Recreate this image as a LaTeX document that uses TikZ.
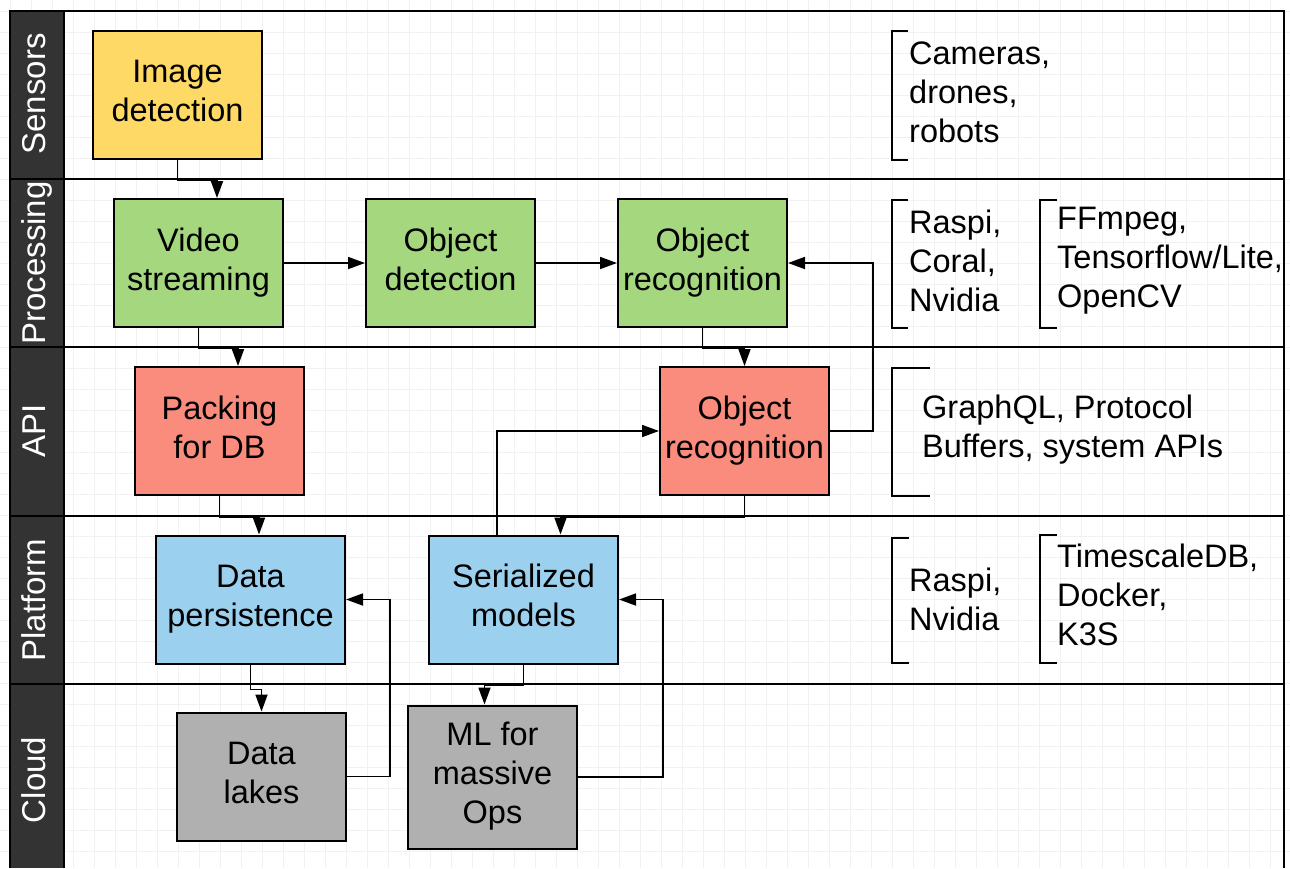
\documentclass[tikz,border=0pt]{standalone}
\usepackage{fontspec}
\setmainfont{Liberation Sans}
\usetikzlibrary{arrows.meta}
\definecolor{cyellow}{HTML}{FFD966}
\definecolor{cgreen}{HTML}{A5D77F}
\definecolor{cred}{HTML}{F98C7D}
\definecolor{cblue}{HTML}{9BD0EE}
\definecolor{cgray}{HTML}{B0B0B0}
\definecolor{cdark}{HTML}{333333}
\definecolor{cgrid}{HTML}{F1F1F1}
\begin{document}
\begin{tikzpicture}[x=1pt,y=-1pt,
  box/.style={draw=black, line width=2pt, minimum width=169pt, minimum height=128pt, inner sep=0pt},
  boxtext/.style={align=center, inner sep=0pt, yshift=-2pt, font=\fontsize{32.5}{39}\selectfont,
    execute at begin node=\strut, execute at end node=\strut},
  conn/.style={line width=1.8pt, -{Triangle[length=17pt,width=12pt]}},
  laneline/.style={line width=2pt},
  bracketline/.style={line width=2pt},
  side/.style={anchor=west, align=left, inner sep=0pt, font=\fontsize{32.5}{39}\selectfont},
  lanelabel/.style={rotate=90, anchor=base, text=white, inner sep=0pt, font=\fontsize{33}{38}\selectfont}]
\useasboundingbox (0,0) rectangle (1290,868);
\fill[white] (0,0) rectangle (1290,868);
% grid
\foreach \i in {0,...,60} \draw[cgrid, line width=1pt] (10+21*\i,0) -- (10+21*\i,868);
\foreach \j in {0,...,40} \draw[cgrid, line width=1pt] (0,11+21*\j) -- (1290,11+21*\j);
% lane frame
\fill[cdark] (10,11) rectangle (64,868);
\draw[laneline] (10,868) -- (10,11) -- (1284,11) -- (1284,868);
\draw[laneline] (64,11) -- (64,868);
\foreach \yy in {179,347,516,684} \draw[laneline] (10,\yy) -- (1284,\yy);
% lane labels
\node[lanelabel] (lsens) at (45,94) {Sensors};
\node[lanelabel] (lproc) at (45,263) {Processing};
\node[lanelabel] (lapi) at (45,431) {API};
\node[lanelabel] (lplat) at (45,600) {Platform};
\node[lanelabel] (lcloud) at (45,780) {Cloud};
% boxes
\node[box, fill=cyellow] (img) at (177.5,94.5) {};
\node[box, fill=cgreen] (vid) at (198.5,263) {};
\node[box, fill=cgreen] (odet) at (450.5,263) {};
\node[box, fill=cgreen] (orec1) at (702.5,263) {};
\node[box, fill=cred] (pack) at (219.5,431) {};
\node[box, fill=cred] (orec2) at (744.5,431) {};
\node[box, fill=cblue, minimum width=189pt] (dpers) at (250.5,599.5) {};
\node[box, fill=cblue, minimum width=189pt] (ser) at (523.5,599.5) {};
\node[box, fill=cgray] (dlake) at (261.5,776.5) {};
\node[box, fill=cgray, minimum height=143pt] (ml) at (492.5,777) {};
% box texts
\node[boxtext] (imgt) at (img.center) {Image\\detection};
\node[boxtext] (vidt) at (vid.center) {Video\\streaming};
\node[boxtext] (odett) at (odet.center) {Object\\detection};
\node[boxtext] (orec1t) at (orec1.center) {Object\\recognition};
\node[boxtext] (packt) at (pack.center) {Packing\\for DB};
\node[boxtext] (orec2t) at (orec2.center) {Object\\recognition};
\node[boxtext] (dperst) at (dpers.center) {Data\\persistence};
\node[boxtext] (sert) at (ser.center) {Serialized\\models};
\node[boxtext] (dlaket) at (dlake.center) {Data\\lakes};
\node[boxtext] (mlt) at (ml.center) {ML for\\massive\\Ops};
% connectors
\draw[conn] (img.south) -- ++(0,21) -| ([xshift=18.5pt]vid.north);
\draw[conn] (vid.south) -- ++(0,20) -| ([xshift=18.5pt]pack.north);
\draw[conn] (pack.south) -- ++(0,21) -| ([xshift=8.5pt]dpers.north);
\draw[conn] (dpers.south) -- ++(0,25) -| (dlake.north);
\draw[conn] (vid.east) -- (odet.west);
\draw[conn] (odet.east) -- (orec1.west);
\draw[conn] (orec1.south) -- ++(0,20) -| (orec2.north);
\draw[conn] (orec2.east) -- ++(43,0) |- (orec1.east);
\draw[conn] ([xshift=-26.5pt]ser.north) |- (orec2.west);
\draw[conn] (orec2.south) -- ++(0,21) -| ([xshift=37pt]ser.north);
\draw[conn] (ser.south) -- ++(0,21) -| ([xshift=-8pt]ml.north);
\draw[conn] (dlake.east) -- ++(43,0) |- (dpers.east);
\draw[conn] (ml.east) -- ++(85,0) |- (ser.east);
% brackets
\draw[bracketline] (908,31) -- (892,31) -- (892,160) -- (908,160);
\draw[bracketline] (908,200) -- (892,200) -- (892,328) -- (908,328);
\draw[bracketline] (1057,200) -- (1040,200) -- (1040,328) -- (1057,328);
\draw[bracketline] (930,368) -- (892,368) -- (892,496) -- (930,496);
\draw[bracketline] (909,538) -- (892,538) -- (892,663) -- (909,663);
\draw[bracketline] (1057,535) -- (1040,535) -- (1040,663) -- (1057,663);
% side texts
\node[side] (tsens) at (909,92) {Cameras,\\drones,\\robots};
\node[side] (tproc1) at (909,261) {Raspi,\\Coral,\\Nvidia};
\node[side] (tproc2) at (1057,261) {FFmpeg,\\Tensorflow/Lite,\\OpenCV};
\node[side] (tapi) at (922,430) {GraphQL, Protocol\\Buffers, system APIs};
\node[side] (tplat1) at (909,599) {Raspi,\\Nvidia};
\node[side] (tplat2) at (1057,595) {TimescaleDB,\\Docker,\\K3S};
\end{tikzpicture}
\end{document}
